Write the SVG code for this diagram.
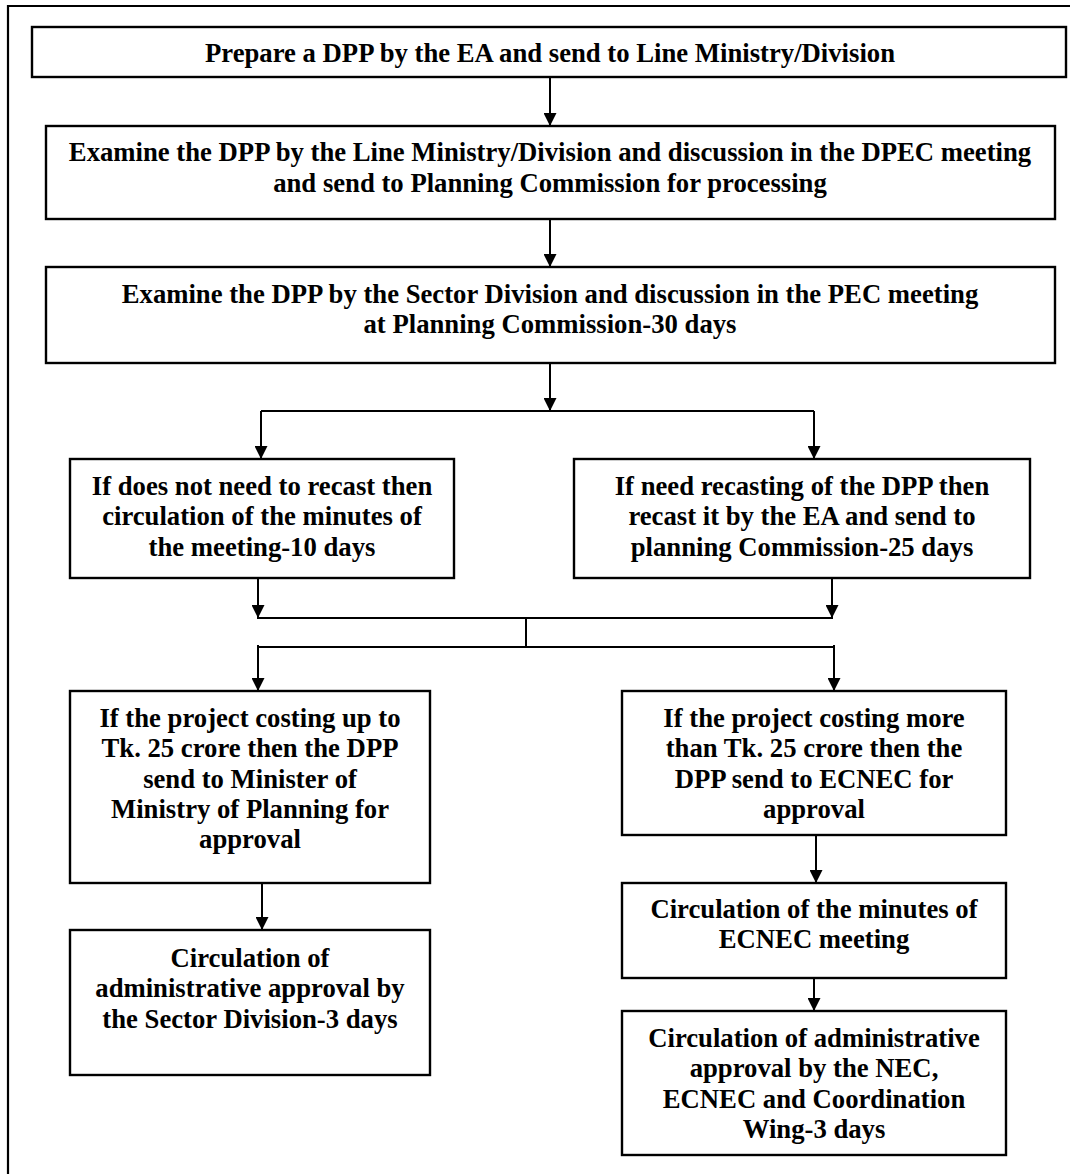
<svg xmlns="http://www.w3.org/2000/svg" width="1070" height="1174" viewBox="0 0 1070 1174">
<style>
.box{fill:#fff;stroke:#000;stroke-width:2.4}
.t{font-family:"Liberation Serif","Times New Roman",serif;font-weight:bold;font-size:26.7px;text-anchor:middle;fill:#000}
.c{fill:none;stroke:#000;stroke-width:2}
.a{fill:none;stroke:#000;stroke-width:2;marker-end:url(#ah)}
</style>
<defs>
<marker id="ah" viewBox="0 0 14 14" markerWidth="14" markerHeight="13" refX="14" refY="7" orient="auto" markerUnits="userSpaceOnUse">
<path d="M0,0 L14,7 L0,14 z" fill="#000"/>
</marker>
</defs>
<rect width="1070" height="1174" fill="#fff"/>
<path id="frame" d="M8,1174 L8,6 L1070,6" fill="none" stroke="#000" stroke-width="2.2"/>

<g id="connectors">
<line class="a" x1="550" y1="77" x2="550" y2="126"/>
<line class="a" x1="550" y1="219" x2="550" y2="267"/>
<line class="a" x1="550" y1="363" x2="550" y2="411"/>
<line class="c" x1="261" y1="411" x2="814" y2="411"/>
<line class="a" x1="261" y1="411" x2="261" y2="459"/>
<line class="a" x1="814" y1="411" x2="814" y2="459"/>
<line class="a" x1="258" y1="578" x2="258" y2="618"/>
<line class="a" x1="832" y1="578" x2="832" y2="618"/>
<line class="c" x1="257" y1="618" x2="833" y2="618"/>
<line class="c" x1="526" y1="618" x2="526" y2="647"/>
<line class="c" x1="257" y1="647" x2="835" y2="647"/>
<line class="a" x1="258" y1="645" x2="258" y2="691"/>
<line class="a" x1="834" y1="645" x2="834" y2="691"/>
<line class="a" x1="262" y1="883" x2="262" y2="930"/>
<line class="a" x1="816" y1="835" x2="816" y2="883"/>
<line class="a" x1="814" y1="978" x2="814" y2="1011"/>
</g>

<g id="n1">
<rect class="box" x="32" y="27" width="1034" height="50"/>
<text class="t" x="550" y="62">Prepare a DPP by the EA and send to Line Ministry/Division</text>
</g>
<g id="n2">
<rect class="box" x="46" y="126" width="1009" height="93"/>
<text class="t" x="550" y="161">Examine the DPP by the Line Ministry/Division and discussion in the DPEC meeting</text>
<text class="t" x="550" y="191.5">and send to Planning Commission for processing</text>
</g>
<g id="n3">
<rect class="box" x="46" y="267" width="1009" height="96"/>
<text class="t" x="550" y="302.5">Examine the DPP by the Sector Division and discussion in the PEC meeting</text>
<text class="t" x="550" y="333">at Planning Commission-30 days</text>
</g>
<g id="n4">
<rect class="box" x="70" y="459" width="384" height="119"/>
<text class="t" x="262" y="495">If does not need to recast then</text>
<text class="t" x="262" y="525.3">circulation of the minutes of</text>
<text class="t" x="262" y="555.6">the meeting-10 days</text>
</g>
<g id="n5">
<rect class="box" x="574" y="459" width="456" height="119"/>
<text class="t" x="802" y="495">If need recasting of the DPP then</text>
<text class="t" x="802" y="525.3">recast it by the EA and send to</text>
<text class="t" x="802" y="555.6">planning Commission-25 days</text>
</g>
<g id="n6">
<rect class="box" x="70" y="691" width="360" height="192"/>
<text class="t" x="250" y="727">If the project costing up to</text>
<text class="t" x="250" y="757.3">Tk. 25 crore then the DPP</text>
<text class="t" x="250" y="787.6">send to Minister of</text>
<text class="t" x="250" y="817.9">Ministry of Planning for</text>
<text class="t" x="250" y="848.2">approval</text>
</g>
<g id="n7">
<rect class="box" x="622" y="691" width="384" height="144"/>
<text class="t" x="814" y="727">If the project costing more</text>
<text class="t" x="814" y="757.3">than Tk. 25 crore then the</text>
<text class="t" x="814" y="787.6">DPP send to ECNEC for</text>
<text class="t" x="814" y="817.9">approval</text>
</g>
<g id="n8">
<rect class="box" x="70" y="930" width="360" height="145"/>
<text class="t" x="250" y="967">Circulation of</text>
<text class="t" x="250" y="997.3">administrative approval by</text>
<text class="t" x="250" y="1027.6">the Sector Division-3 days</text>
</g>
<g id="n9">
<rect class="box" x="622" y="883" width="384" height="95"/>
<text class="t" x="814" y="918">Circulation of the minutes of</text>
<text class="t" x="814" y="948.3">ECNEC meeting</text>
</g>
<g id="n10">
<rect class="box" x="622" y="1011" width="384" height="144"/>
<text class="t" x="814" y="1047">Circulation of administrative</text>
<text class="t" x="814" y="1077.3">approval by the NEC,</text>
<text class="t" x="814" y="1107.6">ECNEC and Coordination</text>
<text class="t" x="814" y="1137.9">Wing-3 days</text>
</g>
</svg>
